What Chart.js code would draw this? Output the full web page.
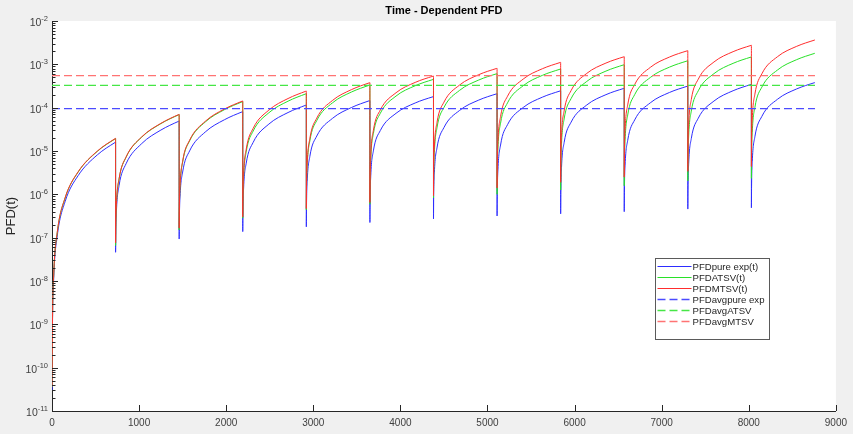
<!DOCTYPE html>
<html><head><meta charset="utf-8">
<script src="https://cdn.jsdelivr.net/npm/chart.js@4.4.1/dist/chart.umd.min.js"></script>
<style>html,body{margin:0;padding:0;background:#f0f0f0;overflow:hidden}#wrap{width:853px;height:434px;position:relative}</style>
</head><body><div id="wrap"><canvas id="c" width="853" height="434"></canvas></div>
<script>
// ---- data ----
const testTimes = [0, 730, 1460, 2190, 2920, 3650, 4380, 5110, 5840, 6570, 7300, 8030];   // start of each proof-test interval (h)
const firstOffsets = [1, 5, 20, 60, 150, 300, 520, 725, 730];  // sample hours inside the first interval
const offsets = [0, 2, 10, 40, 120, 300, 520, 725, 730];       // sample hours inside later intervals

const pfdPureExp = [
  [3.0e-11, 7.5e-10, 1.2e-8, 1.08e-7, 6.76e-7, 2.70e-6, 8.12e-6, 1.578e-5, 1.6e-5],
  [4.6e-8, 1.2e-7, 4.19e-7, 1.59e-6, 5.07e-6, 1.483e-5, 3.04e-5, 4.855e-5, 4.9e-5],
  [9.3e-8, 2.48e-7, 8.74e-7, 3.27e-6, 1.006e-5, 2.75e-5, 5.27e-5, 8.03e-5, 8.1e-5],
  [1.38e-7, 3.9e-7, 1.40e-6, 5.24e-6, 1.586e-5, 4.18e-5, 7.72e-5, 1.141e-4, 1.15e-4],
  [1.78e-7, 5.38e-7, 1.98e-6, 7.41e-6, 2.215e-5, 5.66e-5, 1.011e-4, 1.449e-4, 1.46e-4],
  [2.24e-7, 7.17e-7, 2.69e-6, 1.008e-5, 2.978e-5, 7.41e-5, 1.283e-4, 1.788e-4, 1.8e-4],
  [2.7e-7, 8.45e-7, 3.14e-6, 1.176e-5, 3.475e-5, 8.65e-5, 1.497e-4, 2.086e-4, 2.1e-4],
  [3.16e-7, 9.86e-7, 3.67e-6, 1.372e-5, 4.054e-5, 1.009e-4, 1.746e-4, 2.433e-4, 2.45e-4],
  [3.55e-7, 1.12e-6, 4.19e-6, 1.568e-5, 4.633e-5, 1.153e-4, 1.995e-4, 2.781e-4, 2.8e-4],
  [3.98e-7, 1.26e-6, 4.71e-6, 1.764e-5, 5.212e-5, 1.297e-4, 2.245e-4, 3.128e-4, 3.15e-4],
  [4.57e-7, 1.40e-6, 5.18e-6, 1.934e-5, 5.71e-5, 1.421e-4, 2.459e-4, 3.426e-4, 3.45e-4],
  [4.9e-7, 1.53e-6, 5.69e-6, 2.129e-5, 6.29e-5, 1.565e-4, 2.708e-4, 3.774e-4, 3.8e-4]
];
const pfdATSV = [
  [3.62e-11, 9.05e-10, 1.45e-8, 1.30e-7, 8.15e-7, 3.26e-6, 9.79e-6, 1.904e-5, 1.93e-5],
  [6.6e-8, 1.70e-7, 5.91e-7, 2.24e-6, 7.14e-6, 2.088e-5, 4.281e-5, 6.836e-5, 6.9e-5],
  [1.51e-7, 4.16e-7, 1.48e-6, 5.57e-6, 1.713e-5, 4.68e-5, 8.99e-5, 1.368e-4, 1.38e-4],
  [2.82e-7, 7.41e-7, 2.59e-6, 9.59e-6, 2.899e-5, 7.63e-5, 1.411e-4, 2.083e-4, 2.1e-4],
  [4.37e-7, 1.26e-6, 4.54e-6, 1.694e-5, 5.056e-5, 1.291e-4, 2.305e-4, 3.305e-4, 3.33e-4],
  [5.9e-7, 1.82e-6, 6.75e-6, 2.522e-5, 7.447e-5, 1.853e-4, 3.207e-4, 4.469e-4, 4.5e-4],
  [8.3e-7, 2.50e-6, 9.18e-6, 3.421e-5, 1.0098e-4, 2.512e-4, 4.347e-4, 6.058e-4, 6.1e-4],
  [1.0e-6, 3.13e-6, 1.167e-5, 4.369e-5, 1.291e-4, 3.212e-4, 5.559e-4, 7.747e-4, 7.8e-4],
  [1.26e-6, 3.94e-6, 1.467e-5, 5.49e-5, 1.622e-4, 4.035e-4, 6.984e-4, 9.733e-4, 9.8e-4],
  [1.58e-6, 4.89e-6, 1.814e-5, 6.78e-5, 2.002e-4, 4.983e-4, 8.623e-4, 1.2017e-3, 1.21e-3],
  [2.04e-6, 6.09e-6, 2.229e-5, 8.303e-5, 2.45e-4, 6.095e-4, 1.0548e-3, 1.4699e-3, 1.48e-3],
  [2.34e-6, 7.27e-6, 2.697e-5, 1.0085e-4, 2.979e-4, 7.412e-4, 1.2828e-3, 1.7877e-3, 1.8e-3]
];
const pfdMTSV = [
  [3.68e-11, 9.2e-10, 1.47e-8, 1.32e-7, 8.28e-7, 3.31e-6, 9.95e-6, 1.933e-5, 1.96e-5],
  [7.6e-8, 1.82e-7, 6.09e-7, 2.28e-6, 7.25e-6, 2.119e-5, 4.344e-5, 6.936e-5, 7.0e-5],
  [1.66e-7, 4.40e-7, 1.54e-6, 5.78e-6, 1.776e-5, 4.85e-5, 9.31e-5, 1.417e-4, 1.43e-4],
  [3.0e-7, 8.29e-7, 2.96e-6, 1.103e-5, 3.339e-5, 8.79e-5, 1.6255e-4, 2.40e-4, 2.42e-4],
  [4.7e-7, 1.40e-6, 5.13e-6, 1.92e-5, 5.736e-5, 1.465e-4, 2.617e-4, 3.752e-4, 3.78e-4],
  [6.5e-7, 2.12e-6, 8.0e-6, 3.004e-5, 8.88e-5, 2.211e-4, 3.827e-4, 5.333e-4, 5.37e-4],
  [9.3e-7, 3.15e-6, 1.201e-5, 4.527e-5, 1.339e-4, 3.335e-4, 5.772e-4, 8.044e-4, 8.1e-4],
  [1.4e-6, 4.44e-6, 1.659e-5, 6.215e-5, 1.837e-4, 4.57e-4, 7.911e-4, 1.1024e-3, 1.11e-3],
  [1.9e-6, 6.0e-6, 2.242e-5, 8.4e-5, 2.482e-4, 6.176e-4, 1.069e-3, 1.4897e-3, 1.5e-3],
  [2.5e-6, 8.17e-6, 3.083e-5, 1.158e-4, 3.424e-4, 8.522e-4, 1.4752e-3, 2.0558e-3, 2.07e-3],
  [3.4e-6, 1.093e-5, 4.103e-5, 1.539e-4, 4.549e-4, 1.1322e-3, 1.9598e-3, 2.7312e-3, 2.75e-3],
  [4.4e-6, 1.439e-5, 5.435e-5, 2.042e-4, 6.037e-4, 1.5027e-3, 2.6012e-3, 3.625e-3, 3.65e-3]
];
const avgSpan = [0, 8760];          // time range of the average lines (h)
const pfdAvgPureExp = 9.5e-5;
const pfdAvgATSV = 3.27e-4;
const pfdAvgMTSV = 5.5e-4;
const seriesNames = ['PFDpure exp(t)', 'PFDATSV(t)', 'PFDMTSV(t)', 'PFDavgpure exp', 'PFDavgATSV', 'PFDavgMTSV'];
const xTicks = [0, 1000, 2000, 3000, 4000, 5000, 6000, 7000, 8000, 9000];
const yDecades = [-11, -10, -9, -8, -7, -6, -5, -4, -3, -2];

// ---- build chart ----
const FONT = '"Liberation Sans", Arial, Helvetica, sans-serif';
const BLUE = 'rgb(45,45,255)', GREEN = 'rgb(40,225,40)', RED = 'rgb(255,45,45)';
const BLUE_D = 'rgb(75,75,255)', GREEN_D = 'rgb(70,230,70)', RED_D = 'rgb(255,115,115)';

function buildPoints(segs) {
  const pts = [];
  segs.forEach((vals, k) => {
    const offs = k === 0 ? firstOffsets : offsets;
    vals.forEach((v, i) => pts.push({x: testTimes[k] + offs[i], y: v}));
  });
  return pts;
}
function flatLine(v) { return avgSpan.map(t => ({x: t, y: v})); }

const solid = (label, data, color, order) => ({label, data, borderColor: color, backgroundColor: color, borderWidth: 1, pointRadius: 0, cubicInterpolationMode: 'monotone', order});
const dashed = (label, data, color, order) => ({label, data, borderColor: color, backgroundColor: color, borderWidth: 1.4, borderDash: [8, 4], pointRadius: 0, order});

const datasets = [
  solid(seriesNames[0], buildPoints(pfdPureExp), BLUE, 6),
  solid(seriesNames[1], buildPoints(pfdATSV), GREEN, 5),
  solid(seriesNames[2], buildPoints(pfdMTSV), RED, 4),
  dashed(seriesNames[3], flatLine(pfdAvgPureExp), BLUE_D, 3),
  dashed(seriesNames[4], flatLine(pfdAvgATSV), GREEN_D, 2),
  dashed(seriesNames[5], flatLine(pfdAvgMTSV), RED_D, 1)
];

const bgPlugin = {
  id: 'bg',
  beforeDraw(chart) {
    const {ctx, chartArea: a} = chart;
    ctx.save();
    ctx.fillStyle = '#f0f0f0';
    ctx.fillRect(0, 0, chart.width, chart.height);
    ctx.fillStyle = '#ffffff';
    ctx.fillRect(a.left, a.top, a.right - a.left, a.bottom - a.top);
    ctx.restore();
  }
};

// inward MATLAB-style ticks and 10^n labels on the log axis
const axisPlugin = {
  id: 'matAxis',
  afterDatasetsDraw(chart) {
    const {ctx, chartArea: a, scales: {x, y}} = chart;
    ctx.save();
    ctx.strokeStyle = '#262626';
    ctx.lineWidth = 1;
    ctx.beginPath();
    yDecades.forEach(e => {
      for (let m = 1; m <= 9; m++) {
        if (e === yDecades[yDecades.length - 1] && m > 1) break;
        const py = Math.round(y.getPixelForValue(m * Math.pow(10, e))) + 0.5;
        const len = m === 1 ? 6 : 3.5;
        ctx.moveTo(a.left, py); ctx.lineTo(a.left + len, py);
      }
    });
    xTicks.forEach(t => {
      const px = Math.round(x.getPixelForValue(t)) + 0.5;
      ctx.moveTo(px, a.bottom); ctx.lineTo(px, a.bottom - 6);
    });
    ctx.stroke();
    // y tick labels: "10" with raised exponent
    ctx.fillStyle = '#404040';
    ctx.textBaseline = 'middle';
    ctx.textAlign = 'left';
    const right = a.left - 4;
    yDecades.forEach(e => {
      const py = y.getPixelForValue(Math.pow(10, e));
      const expTxt = String(e);
      ctx.font = '7.5px ' + FONT;
      const ew = ctx.measureText(expTxt).width;
      ctx.font = '10.5px ' + FONT;
      const bw = ctx.measureText('10').width;
      ctx.fillText('10', right - ew - bw, py + 2);
      ctx.font = '7.5px ' + FONT;
      ctx.fillText(expTxt, right - ew, py - 2);
    });
    ctx.restore();
  }
};

const legendPlugin = {
  id: 'matLegend',
  afterDraw(chart) {
    const {ctx} = chart;
    const bx = 655.5, by = 258.5, bw = 114, bh = 81;
    ctx.save();
    ctx.fillStyle = '#ffffff';
    ctx.fillRect(bx, by, bw, bh);
    ctx.strokeStyle = '#5a5a5a';
    ctx.lineWidth = 1;
    ctx.strokeRect(bx, by, bw, bh);
    ctx.font = '9.6px ' + FONT;
    ctx.textBaseline = 'middle';
    ctx.textAlign = 'left';
    chart.data.datasets.forEach((ds, i) => {
      const yy = Math.round(by + 7 + i * 11) + 0.5;
      ctx.strokeStyle = ds.borderColor;
      ctx.lineWidth = ds.borderWidth;
      ctx.setLineDash(ds.borderDash || []);
      ctx.beginPath(); ctx.moveTo(bx + 2, yy); ctx.lineTo(bx + 36, yy); ctx.stroke();
      ctx.setLineDash([]);
      ctx.fillStyle = '#262626';
      ctx.fillText(ds.label, bx + 37, yy + 0.5);
    });
    ctx.restore();
  }
};

new Chart(document.getElementById('c'), {
  type: 'line',
  data: {datasets},
  options: {
    responsive: false,
    animation: false,
    devicePixelRatio: 1,
    layout: {padding: {left: 0, right: 10, top: 0, bottom: 0}},
    plugins: {
      legend: {display: false},
      tooltip: {enabled: false},
      title: {
        display: true, text: 'Time - Dependent PFD', fullSize: false,
        color: '#000', font: {family: FONT, size: 11, weight: 'bold', lineHeight: 1.2},
        padding: {top: 4, bottom: 3.8}
      }
    },
    scales: {
      x: {
        type: 'linear', min: 0, max: 9000,
        afterBuildTicks(s) { s.ticks = xTicks.map(v => ({value: v})); },
        ticks: {color: '#404040', font: {family: FONT, size: 10}, padding: 6, maxRotation: 0, autoSkip: false, callback: v => String(v)},
        grid: {drawOnChartArea: false, drawTicks: false},
        border: {display: true, color: '#262626', width: 1},
        afterFit(s) { s.height = 23; }
      },
      y: {
        type: 'logarithmic', min: 1e-11, max: 1e-2,
        afterBuildTicks(s) { s.ticks = yDecades.map(e => ({value: Math.pow(10, e)})); },
        ticks: {display: false},
        grid: {drawOnChartArea: false, drawTicks: false},
        border: {display: true, color: '#262626', width: 1},
        title: {display: true, text: 'PFD(t)', color: '#262626', font: {family: FONT, size: 13}, padding: {top: 4, bottom: 0}},
        afterFit(s) { s.width = 52; }
      }
    }
  },
  plugins: [bgPlugin, axisPlugin, legendPlugin]
});
</script>
</body></html>
